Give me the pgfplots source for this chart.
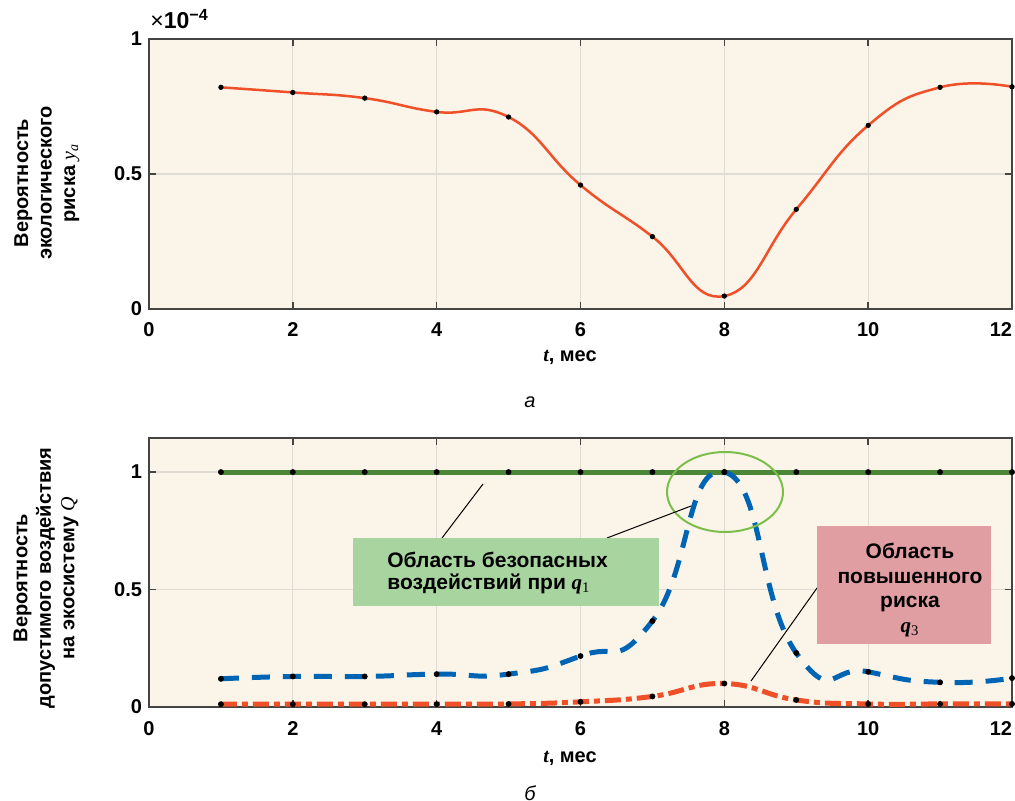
\documentclass[border=0pt]{standalone}
\usepackage{fontspec}
\setmainfont{Liberation Sans}
\newfontfamily\tnr{Liberation Serif}
\usepackage{pgfplots}
\pgfplotsset{compat=1.18}

\definecolor{bgc}{RGB}{250,244,233}
\definecolor{gridc}{RGB}{222,220,212}
\definecolor{axc}{RGB}{68,68,68}
\definecolor{redc}{RGB}{240,80,40}
\definecolor{bluec}{RGB}{0,100,180}
\definecolor{greenc}{RGB}{75,135,55}
\definecolor{boxgreen}{RGB}{168,212,160}
\definecolor{boxpink}{RGB}{224,158,162}
\definecolor{ellc}{RGB}{125,190,75}

\pgfplotsset{
  riskax/.style={
    scale only axis, width=431.5pt,
    xmin=0, xmax=12, ymin=0,
    xtick={0,2,...,12}, xticklabels={0,2,4,6,8,10,\llap{12}},
    ytick={0,0.5,1},
    tick align=inside, major tick length=3.5pt,
    tick style={axc, line width=0.8pt},
    grid=major, major grid style={gridc, line width=0.6pt},
    axis line style={axc, line width=1pt},
    axis background/.style={fill=bgc},
    ticklabel style={font=\fontsize{10}{12}\selectfont\bfseries},
    xticklabel style={anchor=base, yshift=-14pt},
    /pgf/number format/assume math mode=true,
  },
  dots/.style={only marks, mark=*, mark size=1.25pt, mark options={draw=none, fill=black}},
}

\begin{document}
\begin{tikzpicture}[x=0.5pt,y=-0.5pt]
\useasboundingbox (0,0) rectangle (1015,801);
\coordinate (topax) at (149,309);
\coordinate (botax) at (149,707);

% --- (а) ecological risk ---
\begin{axis}[riskax, at={(topax)}, anchor=south west, height=135pt, ymax=1]
  \addplot[redc, line width=1.25pt, smooth, tension=0.8] coordinates {
    (1,0.821) (2,0.802) (3,0.781) (4,0.730) (5,0.711) (6,0.459)
    (7,0.268) (8,0.048) (9,0.369) (10,0.680) (11,0.821) (12,0.823)
  };
  \addplot[dots, mark size=1.1pt] coordinates {
    (1,0.821) (2,0.802) (3,0.781) (4,0.730) (5,0.711) (6,0.459)
    (7,0.268) (8,0.048) (9,0.369) (10,0.680) (11,0.821) (12,0.823)
  };
\end{axis}

\node[anchor=base west, inner sep=0pt, font=\fontsize{11.5}{13}\selectfont] at (150,29) {×\textbf{10\textsuperscript{−4}}};
\node[rotate=90, align=center, font=\fontsize{10}{11.75}\selectfont\bfseries] at (47,183)
  {Вероятность\\экологического\\риска {\tnr\mdseries\itshape y\textsubscript{a}}};
\node[font=\fontsize{10}{12}\selectfont\bfseries] at (570,357) {{\tnr\itshape t}, мес};
\node[font=\fontsize{10}{12}\selectfont\itshape] at (530,402) {а};

% --- (б) admissible impact ---
\begin{axis}[riskax, at={(botax)}, anchor=south west, height=134.5pt, ymax=1.145]
  % data points first, the lines are drawn over them
  \addplot[dots] coordinates {
    (1,1) (2,1) (3,1) (4,1) (5,1) (6,1) (7,1) (8,1) (9,1) (10,1) (11,1) (12,1)
  };
  \addplot[dots] coordinates {
    (1,0.120) (2,0.130) (3,0.130) (4,0.140) (5,0.140) (6,0.217)
    (7,0.366) (8,1.000) (9,0.230) (10,0.150) (11,0.105) (12,0.123)
  };
  \addplot[dots] coordinates {
    (1,0.012) (2,0.012) (3,0.012) (4,0.012) (5,0.013) (6,0.022)
    (7,0.045) (8,0.100) (9,0.030) (10,0.013) (11,0.013) (12,0.013)
  };
  \addplot[greenc, line width=2.5pt] coordinates {
    (1,1) (2,1) (3,1) (4,1) (5,1) (6,1) (7,1) (8,1) (9,1) (10,1) (11,1) (12,1)
  };
  \addplot[bluec, line width=2.5pt, smooth, tension=0.95, dash pattern=on 9pt off 6.5pt] coordinates {
    (1,0.120) (2,0.130) (3,0.130) (4,0.140) (5,0.140) (6,0.217)
    (7,0.366) (8,1.000) (9,0.230) (10,0.150) (11,0.105) (12,0.123)
  };
  \addplot[redc, line width=2.5pt, smooth, tension=0.8, dash pattern=on 8pt off 2.5pt on 3pt off 2.5pt] coordinates {
    (1,0.012) (2,0.012) (3,0.012) (4,0.012) (5,0.013) (6,0.022)
    (7,0.045) (8,0.100) (9,0.030) (10,0.013) (11,0.013) (12,0.013)
  };
\end{axis}

% annotations
\draw[ellc, line width=1pt] (725,492) ellipse [x radius=58, y radius=40];
\draw[black, line width=0.5pt] (483,484) -- (442,538);
\draw[black, line width=0.5pt] (691,506) -- (607,538);
\draw[black, line width=0.5pt] (751,681) -- (817,588);
\fill[boxgreen] (353,538) rectangle (659,606);
\fill[boxpink] (817,526) rectangle (991,644);
\begin{scope}[every node/.style={font=\fontsize{10.5}{12}\selectfont\bfseries, inner sep=0pt}]
  \node[anchor=base west] at (387,567) {Область безопасных};
  \node[anchor=base west] at (387,589) {воздействий при {\tnr\itshape q}{\tnr\mdseries\textsubscript{1}}};
  \node[anchor=base] at (910,558) {Область};
  \node[anchor=base] at (910,583) {повышенного};
  \node[anchor=base] at (910,607) {риска};
  \node[anchor=base] at (910,632) {{\tnr\itshape q}{\tnr\mdseries\textsubscript{3}}};
\end{scope}

\node[rotate=90, align=center, font=\fontsize{10}{11.75}\selectfont\bfseries] at (46,578)
  {Вероятность\\допустимого воздействия\\на экосистему {\tnr\mdseries\itshape Q}};
\node[font=\fontsize{10}{12}\selectfont\bfseries] at (570,758) {{\tnr\itshape t}, мес};
\node[font=\fontsize{10}{12}\selectfont\itshape] at (530,793) {б};
\end{tikzpicture}
\end{document}
